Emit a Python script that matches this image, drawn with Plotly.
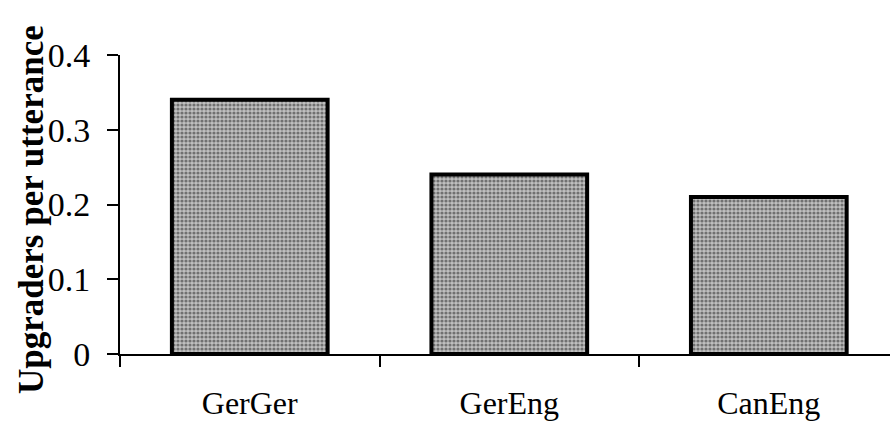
import plotly.graph_objects as go

categories = ["GerGer", "GerEng", "CanEng"]
values = [0.34, 0.24, 0.21]
y_ticks = [0, 0.1, 0.2, 0.3, 0.4]
y_tick_labels = ["0", "0.1", "0.2", "0.3", "0.4"]
y_title = "Upgraders per utterance"

FONT = "Liberation Serif, Times New Roman, serif"

fig = go.Figure()
fig.add_trace(go.Bar(
    x=categories,
    y=values,
    width=0.6,
    marker=dict(
        color="#b0b0b0",
        line=dict(color="black", width=4),
        pattern=dict(shape=".", bgcolor="#c0c0c0", fgcolor="#707070",
                     size=4, solidity=0.5, fillmode="replace"),
    ),
    showlegend=False,
))

fig.update_layout(
    width=890, height=421,
    margin=dict(l=120, r=0, t=55, b=67),
    paper_bgcolor="white", plot_bgcolor="white",
    font=dict(family=FONT, color="black"),
    xaxis=dict(
        type="category",
        range=[-0.5, 2.467],
        automargin=False,
        showline=True, linecolor="black", linewidth=2,
        ticks="outside", ticklen=11, tickwidth=2, tickcolor="black",
        tickson="boundaries",
        tickfont=dict(size=32, family=FONT),
        ticklabelstandoff=20,
        showgrid=False, zeroline=False,
    ),
    yaxis=dict(
        range=[0, 0.4],
        automargin=False,
        tickvals=y_ticks, ticktext=y_tick_labels,
        showline=True, linecolor="black", linewidth=2,
        ticks="outside", ticklen=11, tickwidth=2, tickcolor="black",
        tickfont=dict(size=34, family=FONT),
        ticklabelstandoff=10,
        showgrid=False, zeroline=False,
    ),
    annotations=[dict(
        text="<b>" + y_title + "</b>",
        xref="paper", yref="paper",
        x=(31 - 120) / 770, y=(354 - 210) / 299,
        xanchor="center", yanchor="middle",
        textangle=-90, showarrow=False,
        font=dict(size=35, family=FONT, color="black"),
    )],
    bargap=0.4,
)

fig.write_html("out.html")
